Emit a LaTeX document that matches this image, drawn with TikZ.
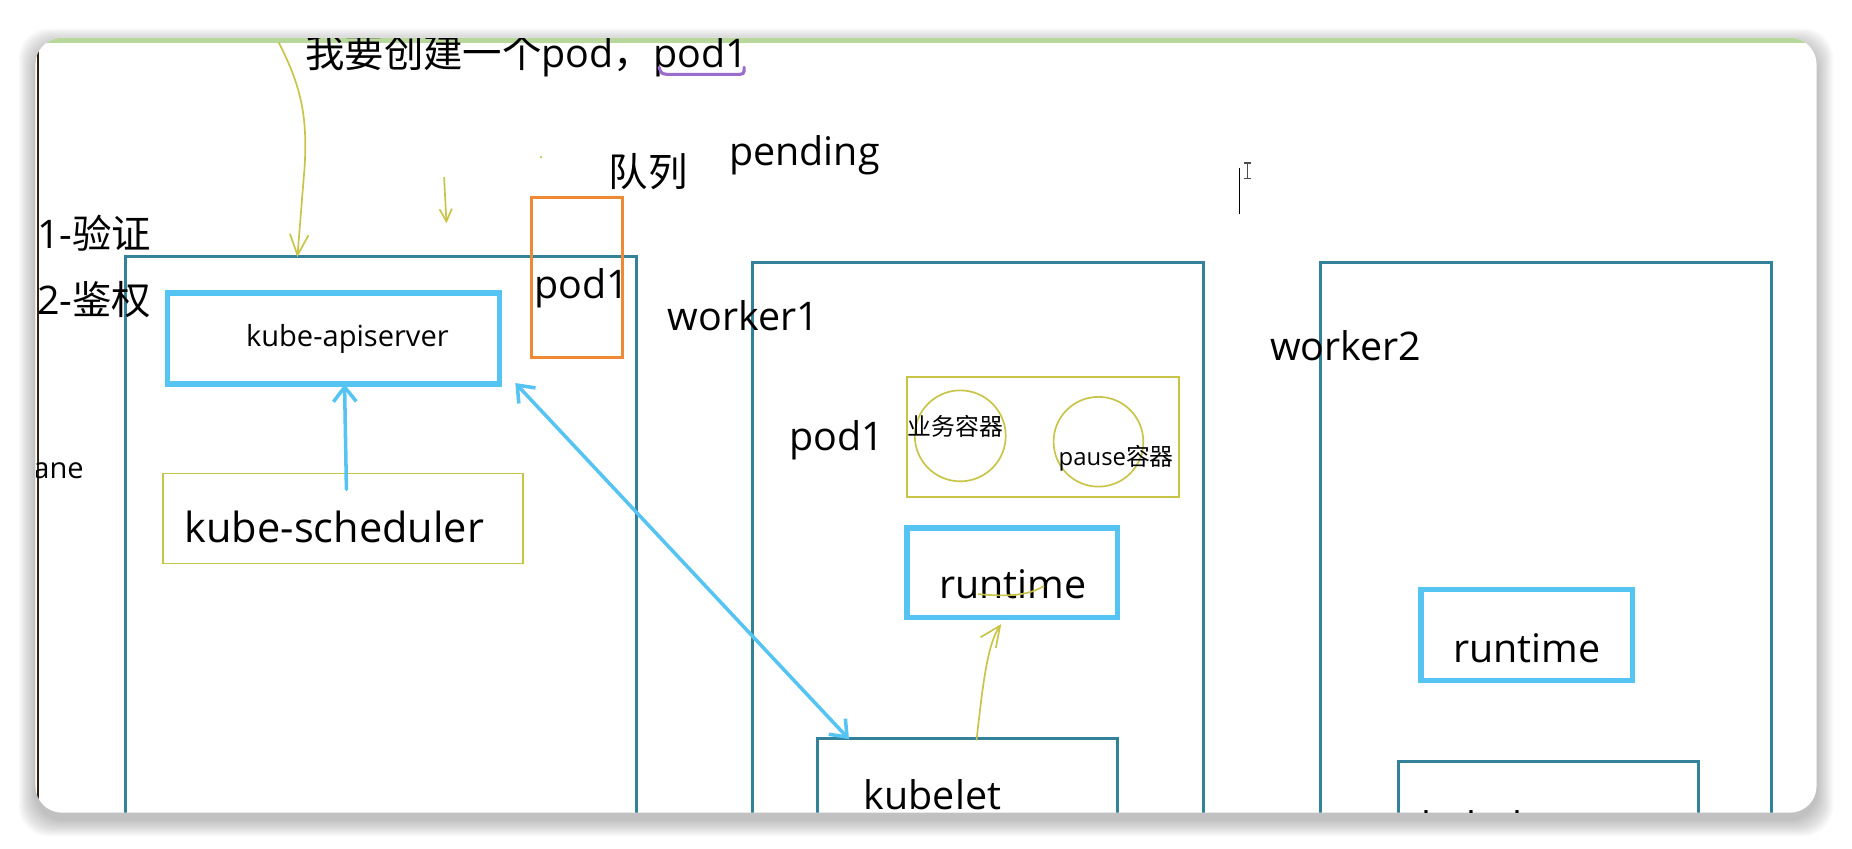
\documentclass[tikz,border=0pt]{standalone}
\usepackage{fontspec}
\setmainfont{Open Sans}
\newfontfamily\cjk{Noto Sans CJK SC}
\usetikzlibrary{fit,calc,arrows.meta}
\definecolor{frameteal}{HTML}{33829A}
\definecolor{apiblue}{HTML}{55C4F2}
\definecolor{penyellow}{HTML}{C8C447}
\definecolor{queueorange}{HTML}{EE8A35}
\definecolor{markpurple}{HTML}{9A6CCB}
\definecolor{tabgreen}{HTML}{B8D79C}
\tikzset{
  nodebox/.style={draw=frameteal, line width=1.4pt, inner sep=0pt},
  bluebox/.style={draw=apiblue, line width=2.6pt, inner sep=0pt},
  podbox/.style={draw=penyellow, line width=0.8pt, inner sep=0pt},
  bigtxt/.style={font=\fontsize{19}{21}\selectfont, inner sep=0pt, anchor=base west},
  midtxt/.style={font=\fontsize{14}{16}\selectfont, inner sep=0pt, anchor=base west},
  smalltxt/.style={font=\fontsize{11.5}{13}\selectfont, inner sep=0pt, anchor=base west},
  bluearrow/.style={draw=apiblue, line width=1.7pt, line cap=round},
  penarrow/.style={draw=penyellow, line width=0.8pt, -{Straight Barb[length=10pt,width=9pt]}},
}
\begin{document}
\begin{tikzpicture}[x=0.02cm, y=-0.02cm]
\useasboundingbox (0,0) rectangle (1568,718);
% card and its shadow
\foreach \s in {1,...,14}
  \fill[black, opacity=0.02, rounded corners=0.5cm] (30-\s,38-\s) rectangle (1538+\s,694+\s);
\fill[white, rounded corners=0.45cm] (30,32) rectangle (1538,688);
\begin{scope}
\clip[rounded corners=0.45cm] (30,32) rectangle (1538,688);
\fill[tabgreen] (30,32) rectangle (1538,36);
\draw[black!75!brown, line width=0.8pt] (32,36) -- (32,688);
% control plane
\node[nodebox, fit={(106,217) (539,760)}] (ctrl) {};
\node[bluebox, fit={(142,248) (423,325)}] (api) {};
\node[podbox, fit={(138,401) (443,477)}] (sched) {};
\node[draw=queueorange, line width=1.4pt, inner sep=0pt, fit={(450,167) (527,303)}] (queue) {};
% worker1
\node[nodebox, fit={(637,222) (1019,760)}] (worker1) {};
\node[podbox, fit={(768,319) (998,421)}] (pod) {};
\node[podbox, circle, minimum size=1.54cm] (biz) at (813,369) {};
\node[podbox, circle, minimum size=1.52cm] (pause) at (930,374) {};
\node[bluebox, fit={(768,447) (946,523)}] (runtime1) {};
\node[nodebox, fit={(692,625) (946,760)}] (kubelet1) {};
% worker2
\node[nodebox, fit={(1118,222) (1500,760)}] (worker2) {};
\node[bluebox, fit={(1203,499) (1382,576)}] (runtime2) {};
\node[nodebox, fit={(1184,645) (1438,760)}] (kubelet2) {};
% texts
\node[bigtxt] (ask) at (258,57) {{\cjk 我要创建一个}pod{\cjk ，}pod1};
\node[bigtxt] (pending) at (617,140) {pending};
\node[bigtxt] (queuelbl) at (515,158) {\cjk 队列};
\node[bigtxt] (authn) at (31,210) {1-{\cjk 验证}};
\node[bigtxt] (authz) at (31,266) {2-{\cjk 鉴权}};
\node[bigtxt] (queuepod) at (452,253) {pod1};
\node[bigtxt] (w1lbl) at (565,280) {worker1};
\node[bigtxt] (w2lbl) at (1075,305) {worker2};
\node[midtxt] (apilbl) at (208,293) {kube-apiserver};
\node[midtxt] (planelbl) at (28,405) {ane};
\node[bigtxt, font=\fontsize{20}{22}\selectfont] (schedlbl) at (156,459) {kube-scheduler};
\node[bigtxt] (podlbl) at (668,381) {pod1};
\node[smalltxt] (bizlbl) at (768,369) {\cjk 业务容器};
\node[smalltxt] (pauselbl) at (896,394) {pause{\cjk 容器}};
\node[bigtxt] (rt1lbl) at (795,507) {runtime};
\node[bigtxt] (rt2lbl) at (1230,561) {runtime};
\node[bigtxt] (kl1lbl) at (731,685) {kubelet};
\node[bigtxt] (kl2lbl) at (1203,712) {kubelet};
% blue arrows
\draw[bluearrow, -{Straight Barb[length=7pt,width=11pt]}] ($(sched.north west)+(156,14)$) -- ($(api.south west)+(152,-2)$);
\draw[bluearrow, {Straight Barb[length=7pt,width=11pt]}-{Straight Barb[length=7pt,width=11pt]}] ($(api.south east)+(11,-3)$) -- ($(kubelet1.north west)+(28,2)$);
% pen marks
\coordinate (hand) at (236,36);
\draw[penarrow] (hand) .. controls (256,75) and (260,100) .. (258,140) -- ($(ctrl.north west)+(147,2)$);
\draw[penarrow, -{Straight Barb[length=6pt,width=6pt]}] (376,150) -- (378,189);
\fill[penyellow] (458,133) circle[radius=0.6pt];
\draw[penarrow] ($(kubelet1.north west)+(136,3)$) .. controls (832,580) and (836,545) .. ($(runtime1.south west)+(82,3)$);
\draw[penyellow, line width=0.8pt] (828,503) .. controls (850,505) and (870,505) .. (884,496);
\draw[markpurple, line width=1.5pt, line cap=round] (558,57) .. controls (560,63) .. (570,63) -- (622,63) .. controls (630,63) .. (630,57);
% text cursor
\draw[black, line width=0.4pt] (1049,142) -- (1049,181);
\draw[black!70, line width=0.5pt] (1056,138) -- (1056,151) (1053,138) -- (1059,138) (1053,151) -- (1059,151);
\end{scope}
\end{tikzpicture}
\end{document}
